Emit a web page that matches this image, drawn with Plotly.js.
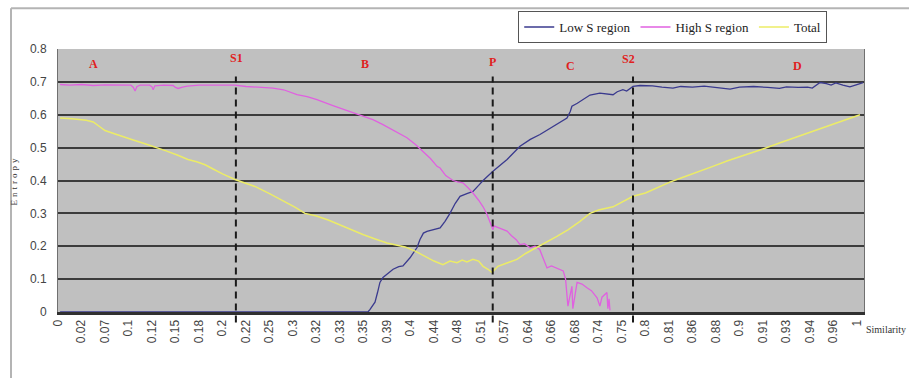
<!DOCTYPE html>
<html>
<head>
<meta charset="utf-8">
<script src="https://cdn.plot.ly/plotly-3.0.1.min.js"></script>
<style>
html,body{margin:0;padding:0;background:#fff;}
#chart{width:909px;height:378px;}
.ytitle{letter-spacing:3px;}
</style>
</head>
<body>
<div id="chart"></div>
<script>
// Category tick labels (similarity) along the x axis
const tickLabels = ["0","0.02","0.07","0.1","0.12","0.15","0.18","0.2","0.22","0.25","0.3",
  "0.32","0.33","0.35","0.39","0.4","0.44","0.48","0.51","0.57","0.64","0.66","0.68","0.74",
  "0.75","0.8","0.81","0.86","0.88","0.9","0.91","0.93","0.94","0.96","1"];

// Positions are in category-label units (0 = "0", 34 = "1")
const lowPos = [0.09,13.19,13.28,13.49,13.6,13.7,13.83,14.0,14.26,14.5,14.68,14.98,15.28,15.4,15.55,15.7,16.0,16.26,16.47,16.68,16.9,17.11,17.4,17.66,17.9,18.09,18.51,19.11,19.66,20.1,20.51,21.1,21.66,21.8,21.87,22.1,22.34,22.5,22.64,23.06,23.3,23.62,23.8,24.04,24.2,24.47,24.77,25.3,25.7,26.17,26.5,27.0,27.5,28.0,28.6,29.0,29.6,30.2,30.7,31.0,31.5,31.9,32.1,32.43,32.7,32.9,33.1,33.4,33.7,34.0,34.26];
const lowVal = [0,0,0.008,0.03,0.06,0.09,0.105,0.115,0.13,0.138,0.14,0.165,0.196,0.22,0.24,0.245,0.252,0.256,0.276,0.30,0.33,0.352,0.36,0.367,0.385,0.40,0.428,0.464,0.504,0.525,0.54,0.565,0.59,0.61,0.626,0.635,0.646,0.655,0.66,0.666,0.664,0.661,0.67,0.676,0.672,0.686,0.689,0.688,0.684,0.681,0.686,0.684,0.687,0.682,0.678,0.684,0.686,0.683,0.680,0.685,0.683,0.684,0.681,0.698,0.695,0.69,0.697,0.69,0.685,0.692,0.698];

const highPos = [0.09,0.5,1.0,1.5,2.0,2.5,3.1,3.2,3.28,3.36,3.5,3.9,4.0,4.05,4.12,4.5,4.9,5.0,5.11,5.3,5.5,6.0,6.5,7.0,7.53,8.0,8.5,9.15,9.6,10.17,10.6,11.02,11.7,12.43,12.85,13.4,13.83,14.3,14.85,15.2,15.53,15.85,16.13,16.26,16.5,16.81,17.0,17.23,17.45,17.66,17.9,18.09,18.25,18.38,18.51,18.55,18.8,19.11,19.3,19.5,19.66,19.85,20.09,20.3,20.5,20.65,20.81,21.0,21.36,21.5,21.6,21.7,21.87,21.91,22.09,22.3,22.51,22.7,22.94,23.06,23.15,23.36,23.4,23.45,23.49];
const highVal = [0.692,0.69,0.692,0.689,0.691,0.69,0.69,0.684,0.672,0.686,0.69,0.69,0.685,0.676,0.688,0.69,0.689,0.683,0.68,0.684,0.687,0.69,0.69,0.691,0.69,0.686,0.684,0.681,0.676,0.661,0.655,0.646,0.628,0.61,0.60,0.585,0.57,0.552,0.53,0.51,0.489,0.467,0.443,0.438,0.415,0.40,0.396,0.393,0.378,0.362,0.34,0.32,0.298,0.276,0.25,0.262,0.255,0.246,0.232,0.22,0.205,0.208,0.195,0.2,0.19,0.16,0.134,0.14,0.129,0.125,0.10,0.018,0.078,0.01,0.09,0.085,0.074,0.065,0.043,0.018,0.045,0.059,0.01,0.04,0.005];

const totalPos = [0.09,0.6,1.2,1.5,1.75,2.0,2.4,2.72,3.2,3.7,4.13,4.6,5.1,5.53,5.9,6.26,6.6,7.0,7.53,8.0,8.38,9.0,9.6,10.1,10.51,11.0,11.5,12.0,12.43,13.0,13.5,14.0,14.77,15.2,15.6,16.0,16.38,16.68,16.98,17.2,17.4,17.66,17.9,18.09,18.3,18.47,18.72,19.1,19.53,19.9,20.38,20.8,21.23,21.7,22.2,22.64,23.0,23.62,24.0,24.47,25.0,25.5,26.04,26.6,27.2,27.87,28.5,29.2,30.0,30.7,31.4,32.13,32.8,33.5,34.13];
const totalVal = [0.59,0.588,0.583,0.578,0.565,0.552,0.542,0.534,0.523,0.512,0.502,0.49,0.477,0.464,0.457,0.448,0.435,0.42,0.403,0.392,0.382,0.36,0.338,0.318,0.30,0.292,0.28,0.265,0.251,0.235,0.222,0.21,0.198,0.185,0.17,0.155,0.144,0.155,0.15,0.158,0.152,0.16,0.155,0.139,0.13,0.12,0.139,0.15,0.16,0.178,0.196,0.212,0.23,0.25,0.275,0.30,0.31,0.32,0.335,0.352,0.362,0.378,0.395,0.41,0.425,0.443,0.46,0.476,0.496,0.514,0.532,0.55,0.567,0.585,0.60];

// Region boundaries (S1, P, S2) and region labels
const boundaryPos = [7.57, 18.5, 24.47];
const regionNames = ["A","S1","B","P","C","S2","D"];
const regionPos   = [1.49, 7.6, 13.06, 18.47, 21.79, 24.26, 31.45];
const regionY     = [0.753, 0.774, 0.753, 0.759, 0.747, 0.771, 0.747];

const tickVals = tickLabels.map((_, i) => i);

const traces = [
  {x: lowPos, y: lowVal, name: "Low S region", mode: "lines", line: {color: "#3a3a8e", width: 1.3}},
  {x: highPos, y: highVal, name: "High S region", mode: "lines", line: {color: "#e060e0", width: 1.3}},
  {x: totalPos, y: totalVal, name: "Total", mode: "lines", line: {color: "#ecec66", width: 1.5}}
];

const shapes = boundaryPos.map(p => ({
  type: "line", xref: "x", yref: "paper", x0: p, x1: p, y0: -0.04, y1: 0.895,
  line: {color: "#1a1a1a", width: 2, dash: "7px,5px"}
}));
// outer chart frame (left and top edges)
shapes.push({type: "line", xref: "paper", yref: "paper", x0: -0.0583, x1: -0.0583, y0: -0.3, y1: 1.155, line: {color: "#b4b4b4", width: 2}});
shapes.push({type: "line", xref: "paper", yref: "paper", x0: -0.0583, x1: 1.1, y0: 1.155, y1: 1.155, line: {color: "#b4b4b4", width: 2}});

const annotations = regionNames.map((t, i) => ({
  x: regionPos[i], y: regionY[i], xref: "x", yref: "y", text: "<b>" + t + "</b>",
  showarrow: false, font: {family: "Liberation Serif", size: 12, color: "#e02020"}
}));
annotations.push({x: 1.0, y: -0.068, xref: "paper", yref: "paper", text: "Similarity",
  showarrow: false, xanchor: "left", yanchor: "middle",
  font: {family: "Liberation Serif", size: 10, color: "#333"}});

const layout = {
  width: 909, height: 378,
  margin: {l: 58, r: 45, t: 48, b: 66},
  paper_bgcolor: "#ffffff",
  plot_bgcolor: "#c0c0c0",
  showlegend: true,
  legend: {orientation: "h", x: 0.571, y: 1.14, xanchor: "left", yanchor: "top",
    bgcolor: "#ffffff", bordercolor: "#555", borderwidth: 1,
    font: {family: "Liberation Serif", size: 13, color: "#222"}, itemwidth: 30},
  xaxis: {range: [0, 34.3], tickmode: "array", tickvals: tickVals, ticktext: tickLabels,
    tickangle: -90, tickfont: {family: "Liberation Sans", size: 12, color: "#444"},
    showgrid: false, zeroline: false, showline: true, linecolor: "#303030", linewidth: 3,
    ticks: "", fixedrange: true},
  yaxis: {range: [0, 0.8], dtick: 0.1, tickformat: ".1~f",
    tickfont: {family: "Liberation Sans", size: 12, color: "#444"},
    showgrid: true, gridcolor: "#3c3c3c", gridwidth: 2, zeroline: false,
    showline: true, linecolor: "#707070", linewidth: 1, mirror: true,
    ticks: "outside", ticklen: 8, tickcolor: "rgba(0,0,0,0)",
    title: {text: "Entropy", font: {family: "Liberation Serif", size: 9, color: "#333"}, standoff: 10}},
  shapes: shapes,
  annotations: annotations
};

Plotly.newPlot("chart", traces, layout, {displayModeBar: false, staticPlot: true});
</script>
</body>
</html>
